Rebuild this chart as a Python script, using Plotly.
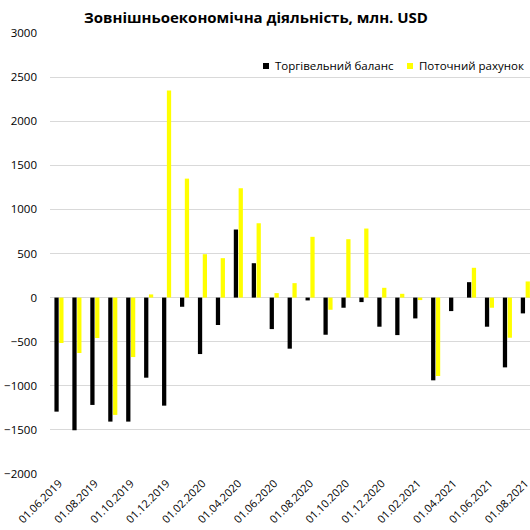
import plotly.graph_objects as go

# Monthly dates, 01.06.2019 – 01.08.2021
months = [
    "01.06.2019", "01.07.2019", "01.08.2019", "01.09.2019", "01.10.2019",
    "01.11.2019", "01.12.2019", "01.01.2020", "01.02.2020", "01.03.2020",
    "01.04.2020", "01.05.2020", "01.06.2020", "01.07.2020", "01.08.2020",
    "01.09.2020", "01.10.2020", "01.11.2020", "01.12.2020", "01.01.2021",
    "01.02.2021", "01.03.2021", "01.04.2021", "01.05.2021", "01.06.2021",
    "01.07.2021", "01.08.2021",
]

# Trade balance, mln USD
trade_balance = [
    -1293, -1504, -1217, -1406, -1406, -908, -1225, -104, -640, -311,
    772, 390, -357, -579, -32, -421, -115, -51, -330, -425,
    -236, -938, -153, 175, -330, -791, -179,
]

# Current account, mln USD
current_account = [
    -515, -628, -458, -1330, -674, 36, 2349, 1349, 492, 447,
    1240, 843, 51, 164, 689, -138, 662, 783, 111, 43,
    -28, -889, 0, 338, -115, -455, 183,
]

series_names = ["Торгівельний баланс", "Поточний рахунок"]
series_colors = ["#000000", "#FFFF00"]

title_text = "Зовнішньоекономічна діяльність, млн. USD"
y_ticks = [-2000, -1500, -1000, -500, 0, 500, 1000, 1500, 2000, 2500, 3000]
x_ticks = months[::2]

W, H = 530, 530
ML, MR, MT, MB = 50, 0, 33, 56
PW, PH = W - ML - MR, H - MT - MB

fig = go.Figure()
for name, vals, col in zip(series_names, [trade_balance, current_account], series_colors):
    fig.add_trace(go.Bar(
        x=months, y=vals, name=name,
        marker=dict(color=col, line=dict(width=0)),
        showlegend=False,
    ))

grid = "#d9d9d9"
tick_font = dict(family="Open Sans, Noto Sans, sans-serif", size=11, color="#000000")

fig.update_layout(
    width=W, height=H,
    margin=dict(l=ML, r=MR, t=MT, b=MB, pad=0),
    paper_bgcolor="white", plot_bgcolor="white",
    barmode="group", bargap=0.46, bargroupgap=0.12,
    title=dict(
        text="<b>" + title_text + "</b>",
        x=256 / W, xref="container", xanchor="center",
        y=1 - 18 / H, yref="container", yanchor="middle",
        font=dict(family="Open Sans, Liberation Sans, sans-serif", size=15, color="#000000"),
    ),
    xaxis=dict(
        type="category",
        range=[-0.5, 26.26],
        tickmode="array", tickvals=x_ticks, ticktext=x_ticks,
        tickangle=-45, tickfont=tick_font,
        showgrid=False, showline=False, zeroline=False,
        ticks="", ticklen=0,
    ),
    yaxis=dict(
        range=[-2000, 3000],
        tickmode="array", tickvals=y_ticks,
        tickfont=dict(family="Open Sans, Noto Sans, sans-serif", size=11.5, color="#000000"),
        showgrid=True, gridcolor=grid, gridwidth=1,
        zeroline=True, zerolinecolor=grid, zerolinewidth=1,
        showline=False, ticks="", ticklabelstandoff=12,
    ),
)

# Legend drawn as small colour squares with labels above the plot
sq = 6
legend_row = 66
legend_items = [(263, 273, series_names[0], series_colors[0]),
                (407, 417, series_names[1], series_colors[1])]
for sx, tx, label, col in legend_items:
    fig.add_shape(
        type="rect", xref="paper", yref="paper",
        x0=(sx - ML) / PW, x1=(sx + sq - ML) / PW,
        y0=(H - legend_row - sq / 2 - MB) / PH, y1=(H - legend_row + sq / 2 - MB) / PH,
        fillcolor=col, line=dict(width=0),
    )
    fig.add_annotation(
        text=label, xref="paper", yref="paper",
        x=(tx - ML) / PW, y=(H - legend_row - MB) / PH,
        xanchor="left", yanchor="middle", showarrow=False,
        font=dict(family="Open Sans, Noto Sans, sans-serif", size=11.5, color="#000000"),
    )

fig.write_html("out.html")
